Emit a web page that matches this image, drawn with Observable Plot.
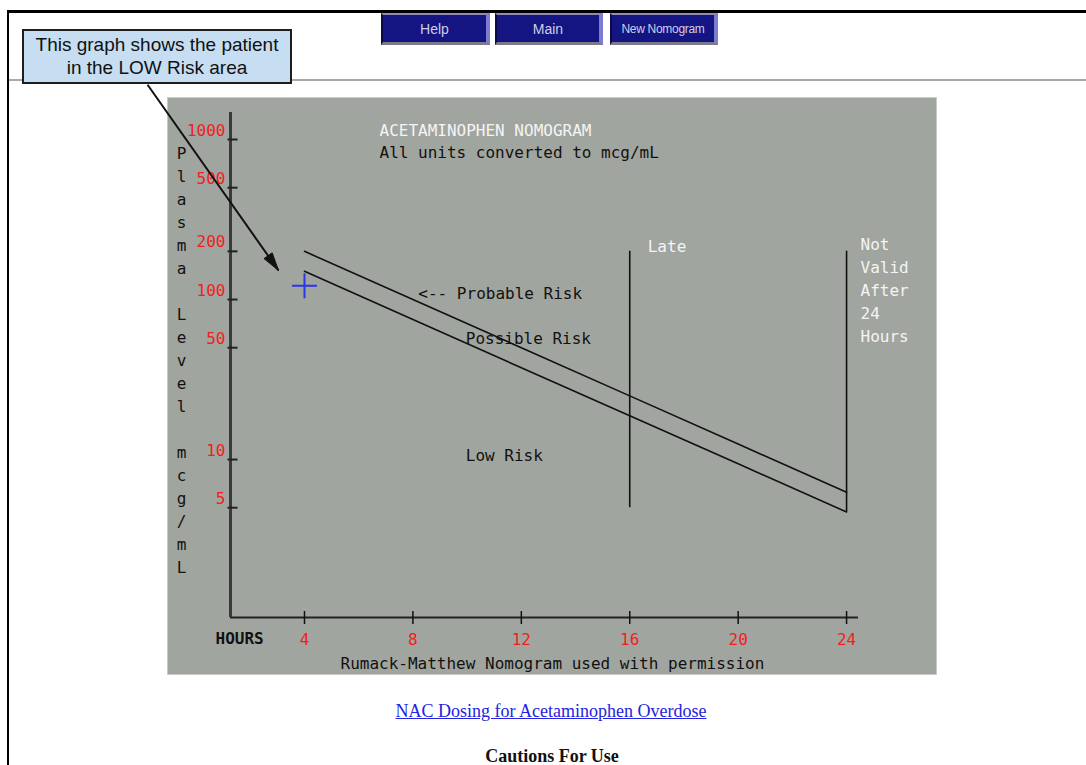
<!DOCTYPE html>
<html>
<head>
<meta charset="utf-8">
<script src="https://cdn.jsdelivr.net/npm/d3@7"></script>
<script src="https://cdn.jsdelivr.net/npm/@observablehq/plot@0.6"></script>
<style>
  html, body { margin: 0; padding: 0; background: #fff; overflow: hidden; width: 1086px; height: 765px; }
  #page { position: relative; width: 1086px; height: 765px; }
  .abs { position: absolute; }
  #topborder { left: 7px; top: 10px; right: 0; height: 3px; background: #000; }
  #leftborder { left: 7px; top: 10px; width: 2px; height: 760px; background: #000; }
  #hr { left: 9px; right: 0; top: 79px; height: 2px; background: #a9a9a9; }
  .btn { top: 13px; height: 32px; box-sizing: border-box; background: #141483; color: #cfcfe6;
         font: 14px "Liberation Sans", Arial, sans-serif; display: flex; align-items: center; justify-content: center;
         border-style: solid; border-width: 2px 4px 3px 2px; border-color: #8c8cb4 #7c7cd0 #7a7a88 #0a0a44; }
  #panel { left: 167px; top: 97px; width: 770px; height: 578px; box-sizing: border-box;
           background: #a1a59f; border: 1px solid #c8cac5; }
  #callout { left: 22px; top: 29px; width: 270px; height: 55px; box-sizing: border-box;
             background: #c6ddf2; border: 2px solid #1e1e1e; color: #111; text-align: center;
             font: 19px "Liberation Sans", Arial, sans-serif; line-height: 23px; padding-top: 2px; }
  #chart { left: 0; top: 0; z-index: 5; }
  #link { left: 551px; top: 701px; transform: translateX(-50%); white-space: nowrap;
          font: 18px "Liberation Serif", "Times New Roman", serif; color: #2323e0; text-decoration: underline; }
  #cautions { left: 552px; top: 746px; transform: translateX(-50%); white-space: nowrap;
              font: bold 18px "Liberation Serif", "Times New Roman", serif; color: #111; }
</style>
</head>
<body>
<div id="page">
  <div class="abs" id="hr"></div>
  <div class="abs" id="topborder"></div>
  <div class="abs" id="leftborder"></div>
  <div class="abs btn" style="left:381px;width:109px;">Help</div>
  <div class="abs btn" style="left:495px;width:108px;">Main</div>
  <div class="abs btn" style="left:610px;width:108px;font-size:12px;letter-spacing:-0.3px;">New Nomogram</div>
  <div class="abs" id="callout">This graph shows the patient<br>in the LOW Risk area</div>
  <div class="abs" id="panel"></div>
  <div class="abs" id="chart"></div>
  <div class="abs" id="link">NAC Dosing for Acetaminophen Overdose</div>
  <div class="abs" id="cautions">Cautions For Use</div>
</div>
<script>
// ---- data ----
const hours = [4, 8, 12, 16, 20, 24];
const probableRisk = [200, 100, 50, 25, 12.5, 6.25];   // upper line (mcg/mL)
const possibleRisk = [150, 75, 37.5, 18.75, 9.4, 4.7]; // lower line (mcg/mL)
const hourTicks = [4, 8, 12, 16, 20, 24];
const levelTicks = [1000, 500, 200, 100, 50, 10, 5];
const patientHour = [4];
const patientLevel = [122];
const lateHour = [16];
const lateLevels = [5, 200];
const cutoffHour = [24];
const cutoffLevels = [4.7, 200];
const riskLabels = ["<-- Probable Risk", "Possible Risk", "Low Risk"];
const riskLabelHours = [8.2, 9.95, 9.95];
const riskLabelLevels = [109, 57, 10.6];
const yAxisLetters = ["P","l","a","s","m","a","","L","e","v","e","l","","m","c","g","/","m","L"];
const arrowFrom = {hour: -1.79, level: 2200};
const arrowTo = {hour: 3.04, level: 152};
const xDomain = [1.27, 24.44];
const yDomain = [1.03, 1475];

// ---- tables built from the arrays ----
const probableData = hours.map((h, i) => ({hour: h, level: probableRisk[i]}));
const possibleData = hours.map((h, i) => ({hour: h, level: possibleRisk[i]}));
const patient = patientHour.map((h, i) => ({hour: h, level: patientLevel[i]}));
const verticals = [
  {hour: lateHour[0], lo: lateLevels[0], hi: lateLevels[1]},
  {hour: cutoffHour[0], lo: cutoffLevels[0], hi: cutoffLevels[1]}
];
const risks = riskLabels.map((t, i) => ({label: t, hour: riskLabelHours[i], level: riskLabelLevels[i]}));
const lateNote = [{label: "Late", hour: lateHour[0], level: lateLevels[1]}];
const cutoffNote = [{label: "Not\nValid\nAfter\n24\nHours", hour: cutoffHour[0], level: cutoffLevels[1]}];
const arrows = [{x1: arrowFrom.hour, y1: arrowFrom.level, x2: arrowTo.hour, y2: arrowTo.level}];

// layout
const W = 1086, H = 765, mL = 230, mR = 228, mT = 112, mB = 148;

// custom symbols
const vTick = {draw(ctx, size) { const r = Math.sqrt(size / Math.PI); ctx.moveTo(0, -r); ctx.lineTo(0, r); }};
const hTick = {draw(ctx, size) { const r = Math.sqrt(size / Math.PI); ctx.moveTo(-r, 0); ctx.lineTo(r, 0); }};
const plus = {draw(ctx, size) { const r = Math.sqrt(size / Math.PI); ctx.moveTo(-r, 0); ctx.lineTo(r, 0); ctx.moveTo(0, -r); ctx.lineTo(0, r); }};

// filled arrowhead oriented along the arrow (direction from the same scales)
const sx = d3.scaleLinear(xDomain, [mL, W - mR]);
const sy = d3.scaleLog(yDomain, [H - mB, mT]);
const adx = sx(arrowTo.hour) - sx(arrowFrom.hour), ady = sy(arrowTo.level) - sy(arrowFrom.level);
const alen = Math.hypot(adx, ady), ux = adx / alen, uy = ady / alen;
const headL = 18, headW = 5;
const arrowHead = {draw(ctx) {
  ctx.moveTo(0, 0);
  ctx.lineTo(-ux * headL - uy * headW, -uy * headL + ux * headW);
  ctx.lineTo(-ux * headL + uy * headW, -uy * headL - ux * headW);
  ctx.closePath();
}};

const mono = "DejaVu Sans Mono, Liberation Mono, monospace";
const red = "#f01e1e";
const FS = 16;

const chart = Plot.plot({
  width: W,
  height: H,
  marginLeft: mL,
  marginRight: mR,
  marginTop: mT,
  marginBottom: mB,
  style: {background: "transparent", overflow: "visible"},
  x: {type: "linear", domain: xDomain, axis: null},
  y: {type: "log", domain: yDomain, axis: null},
  marks: [
    // axes lines
    Plot.ruleY([yDomain[0]], {stroke: "#222", strokeWidth: 2}),
    Plot.ruleX([xDomain[0]], {stroke: "#3a3a3a", strokeWidth: 3}),
    // ticks
    Plot.dot(hourTicks, {x: d => d, frameAnchor: "bottom", symbol: vTick, r: 6.5, stroke: "#111", fill: "none", strokeWidth: 1.5}),
    Plot.dot(levelTicks, {y: d => d, frameAnchor: "left", symbol: hTick, r: 5, dx: 2, stroke: "#222", fill: "none", strokeWidth: 2}),
    // tick labels
    Plot.text(hourTicks, {x: d => d, text: d => String(d), frameAnchor: "bottom", dy: 27, fill: red, fontFamily: mono, fontSize: FS}),
    Plot.text(levelTicks, {y: d => d, text: d => String(d), frameAnchor: "left", textAnchor: "end", lineAnchor: "bottom", dx: -5, dy: -4, fill: red, fontFamily: mono, fontSize: FS}),
    Plot.text(["HOURS"], {frameAnchor: "bottom-left", textAnchor: "start", dx: -15, dy: 26, fill: "#111", fontFamily: mono, fontSize: FS, fontWeight: "bold"}),
    Plot.text(["Rumack-Matthew Nomogram used with permission"], {frameAnchor: "bottom-left", textAnchor: "start", dx: 110, dy: 51, fill: "#111", fontFamily: mono, fontSize: FS}),
    Plot.text([yAxisLetters.join("\n")], {frameAnchor: "top-left", textAnchor: "middle", lineAnchor: "top", dx: -49, dy: 30, lineHeight: 23 / FS, fill: "#111", fontFamily: mono, fontSize: FS}),
    // titles
    Plot.text(["ACETAMINOPHEN NOMOGRAM"], {frameAnchor: "top-left", textAnchor: "start", lineAnchor: "top", dx: 149, dy: 12, fill: "#f4f4f4", fontFamily: mono, fontSize: FS}),
    Plot.text(["All units converted to mcg/mL"], {frameAnchor: "top-left", textAnchor: "start", lineAnchor: "top", dx: 149, dy: 34, fill: "#111", fontFamily: mono, fontSize: FS}),
    // risk lines
    Plot.line(probableData, {x: "hour", y: "level", stroke: "#111", strokeWidth: 1.6}),
    Plot.line(possibleData, {x: "hour", y: "level", stroke: "#111", strokeWidth: 1.6}),
    Plot.ruleX(verticals, {x: "hour", y1: "lo", y2: "hi", stroke: "#111", strokeWidth: 1.6}),
    // labels
    Plot.text(risks, {x: "hour", y: "level", text: "label", textAnchor: "start", fill: "#111", fontFamily: mono, fontSize: FS}),
    Plot.text(lateNote, {x: "hour", y: "level", text: "label", dx: 18, dy: -11, textAnchor: "start", lineAnchor: "top", fill: "#f4f4f4", fontFamily: mono, fontSize: FS}),
    Plot.text(cutoffNote, {x: "hour", y: "level", text: "label", dx: 14, dy: -18, textAnchor: "start", lineAnchor: "top", lineHeight: 23 / FS, fill: "#f4f4f4", fontFamily: mono, fontSize: FS}),
    // patient marker
    Plot.dot(patient, {x: "hour", y: "level", symbol: plus, r: 12.5, stroke: "#2b36e6", fill: "none", strokeWidth: 2}),
    // callout arrow: shaft + filled head
    Plot.link(arrows, {x1: "x1", y1: "y1", x2: "x2", y2: "y2", stroke: "#111", strokeWidth: 2}),
    Plot.dot(arrows, {x: "x2", y: "y2", symbol: arrowHead, r: 5, fill: "#111", stroke: "#111", strokeWidth: 1})
  ]
});
document.getElementById("chart").appendChild(chart);
</script>
</body>
</html>
